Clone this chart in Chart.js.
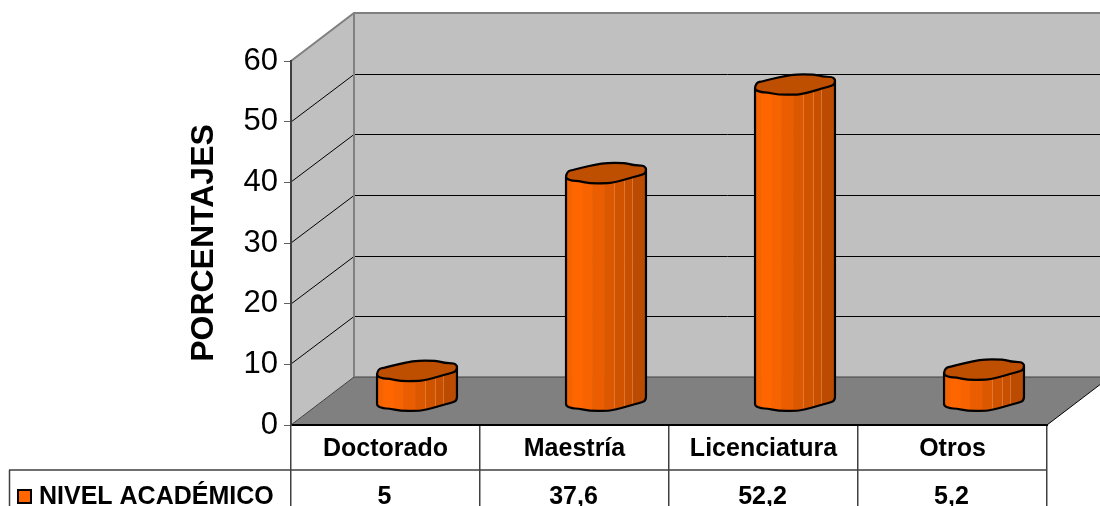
<!DOCTYPE html>
<html>
<head>
<meta charset="utf-8">
<style>html,body{margin:0;padding:0;background:#fff}canvas{display:block}</style>
<script src="https://cdn.jsdelivr.net/npm/chart.js@4"></script>
</head>
<body>
<canvas id="c" width="1100" height="506"></canvas>
<script>
const categories = ['Doctorado', 'Maestría', 'Licenciatura', 'Otros'];
const seriesName = 'NIVEL ACADÉMICO';
const values = [5, 37.6, 52.2, 5.2];
const valueLabels = ['5', '37,6', '52,2', '5,2'];
const yTicks = [0, 10, 20, 30, 40, 50, 60];
const yTitle = 'PORCENTAJES';

const FONT = '"Liberation Sans", Arial, sans-serif';
const DEPTH = { x: 63, y: -48 };
const ORANGE = '#ff6600';
// cap outline, in fractions of the bar half width, around the cap centre
const capTop = [[-1,.09],[-.98,-.04],[-.8,-.08],[-.1,-.25],[.5,-.25],[.68,-.19],[.93,-.19],[1,-.12],[1,-.1]];
const capBottom = [[1,-.1],[1,.0],[.88,.05],[.2,.24],[.0,.26],[-.42,.26],[-.7,.2],[-.84,.2],[-1,.14],[-1,.09]];
// vertical shading bands of the cylinder: [end fraction of width, colour]
const bands = [[.08,'#f56200'],[.21,'#ff6600'],[.33,'#f76300'],[.48,'#ea5d00'],[.60,'#dc5800'],[.73,'#d05300'],[.83,'#c84f00'],[1,'#bb4b00']];
const seams = [.60,.73,.83];

function poly(ctx, pts, start) {
  pts.forEach((p, i) => (i === 0 && start) ? ctx.moveTo(p[0], p[1]) : ctx.lineTo(p[0], p[1]));
}
function smooth(ctx, pts, start) {
  if (start) ctx.moveTo(pts[0][0], pts[0][1]); else ctx.lineTo(pts[0][0], pts[0][1]);
  for (let i = 1; i < pts.length - 1; i++) {
    const n = pts[i + 1], p = pts[i];
    const last = i === pts.length - 2;
    ctx.quadraticCurveTo(p[0], p[1], last ? n[0] : (p[0] + n[0]) / 2, last ? n[1] : (p[1] + n[1]) / 2);
  }
}

const scene = {
  id: 'scene',
  beforeDraw(chart) {
    const { ctx, scales: { x, y } } = chart;
    const L = x.left, R = x.right, B = y.getPixelForValue(0), T = y.getPixelForValue(60);
    const dx = DEPTH.x, dy = DEPTH.y;
    ctx.save();
    // back wall
    ctx.fillStyle = '#c0c0c0';
    ctx.fillRect(L + dx, T + dy, R - L, B - T);
    // side wall
    ctx.beginPath();
    poly(ctx, [[L,B],[L,T],[L+dx,T+dy],[L+dx,B+dy]], true);
    ctx.closePath(); ctx.fill();
    // floor
    ctx.fillStyle = '#808080';
    ctx.beginPath();
    poly(ctx, [[L,B],[R,B],[R+dx,B+dy],[L+dx,B+dy]], true);
    ctx.closePath(); ctx.fill();
    // grid lines
    ctx.strokeStyle = '#000'; ctx.lineWidth = 1;
    yTicks.forEach(v => {
      if (v === 0 || v === 60) return;
      const py = Math.round(y.getPixelForValue(v));
      ctx.beginPath();
      ctx.moveTo(L, py); ctx.lineTo(L + dx, py + dy + .5);
      ctx.lineTo(R + dx, py + dy + .5);
      ctx.stroke();
    });
    // wall borders
    ctx.strokeStyle = '#808080'; ctx.lineWidth = 2;
    ctx.beginPath();
    ctx.moveTo(L, T); ctx.lineTo(L + dx, T + dy); ctx.lineTo(R + dx, T + dy);
    ctx.moveTo(L + dx, T + dy); ctx.lineTo(L + dx, B + dy); ctx.lineTo(R + dx, B + dy);
    ctx.stroke();
    ctx.strokeStyle = '#606060'; ctx.lineWidth = 1;
    ctx.beginPath(); ctx.moveTo(L + dx, B + dy + .5); ctx.lineTo(R + dx, B + dy + .5); ctx.stroke();
    ctx.strokeStyle = '#000'; ctx.lineWidth = 1;
    ctx.beginPath(); ctx.moveTo(R, B); ctx.lineTo(R + dx, B + dy); ctx.stroke();
    ctx.strokeStyle = '#404040'; ctx.lineWidth = 1;
    ctx.beginPath(); ctx.moveTo(L, B); ctx.lineTo(L + dx, B + dy); ctx.stroke();

    // data table
    const row1 = B + 45, cw = (R - L) / categories.length;
    ctx.strokeStyle = '#404040'; ctx.lineWidth = 1.5;
    ctx.beginPath();
    ctx.moveTo(9, row1); ctx.lineTo(R + .5, row1);
    ctx.moveTo(9.5, row1); ctx.lineTo(9.5, 506);
    for (let i = 0; i <= categories.length; i++) {
      const vx = Math.floor(L + i * cw) - .25;
      ctx.moveTo(vx, B); ctx.lineTo(vx, 506);
    }
    ctx.stroke();
    // table: values row and series key
    ctx.fillStyle = '#000';
    ctx.font = 'bold 25px ' + FONT;
    ctx.textAlign = 'center'; ctx.textBaseline = 'alphabetic';
    valueLabels.forEach((t, i) => ctx.fillText(t, L + (i + .5) * cw - 1, 504));
    ctx.textAlign = 'left';
    ctx.fillText(seriesName, 39, 504);
    ctx.fillStyle = ORANGE; ctx.strokeStyle = '#000'; ctx.lineWidth = 2;
    ctx.fillRect(18, 490, 13, 13); ctx.strokeRect(18, 490, 13, 13);
    ctx.restore();
  },
  beforeDatasetDraw(chart, args) {
    const { ctx } = chart;
    const meta = chart.getDatasetMeta(args.index);
    meta.data.forEach(bar => {
      const hw = bar.width / 2;
      const cx = bar.x + DEPTH.x / 2;
      const topY = bar.y + DEPTH.y / 2, baseY = bar.base + DEPTH.y / 2;
      const at = (p, yc) => [cx + p[0] * hw, yc + p[1] * hw];
      const body = () => {
        ctx.beginPath();
        const a = at(capTop[0], topY), b = at(capBottom[0], topY);
        ctx.moveTo(a[0], a[1]); ctx.lineTo(b[0], b[1]);
        smooth(ctx, capBottom.map(p => at(p, baseY)), false);
        ctx.closePath();
      };
      ctx.save();
      ctx.lineJoin = 'round';
      // body with shading
      ctx.save();
      body(); ctx.clip();
      let sx = cx - hw;
      bands.forEach(b => {
        const ex = cx - hw + b[0] * 2 * hw;
        ctx.fillStyle = b[1];
        ctx.fillRect(sx, topY - hw, ex - sx + .5, baseY - topY + 2 * hw);
        sx = ex;
      });
      ctx.strokeStyle = 'rgba(255,190,140,.35)'; ctx.lineWidth = 1;
      seams.forEach(f => {
        const ex = Math.round(cx - hw + f * 2 * hw) + .5;
        ctx.beginPath(); ctx.moveTo(ex, topY - hw); ctx.lineTo(ex, baseY + hw); ctx.stroke();
      });
      ctx.restore();
      ctx.strokeStyle = '#000'; ctx.lineWidth = 2.2;
      body(); ctx.stroke();
      // cap
      ctx.beginPath();
      smooth(ctx, capTop.map(p => at(p, topY)), true);
      smooth(ctx, capBottom.map(p => at(p, topY)), false);
      ctx.closePath();
      ctx.fillStyle = '#bf4f00';
      ctx.fill(); ctx.stroke();
      ctx.restore();
    });
    return false;
  }
};

new Chart(document.getElementById('c'), {
  type: 'bar',
  data: {
    labels: categories,
    datasets: [{ label: seriesName, data: values, backgroundColor: ORANGE, borderColor: '#000', barPercentage: 0.423, categoryPercentage: 1 }]
  },
  plugins: [scene],
  options: {
    responsive: false,
    animation: false,
    layout: { padding: { top: 61, right: 53, left: 0, bottom: 0 } },
    plugins: { legend: { display: false }, title: { display: false }, tooltip: { enabled: false } },
    scales: {
      x: {
        afterFit: s => { s.height = 81; },
        grid: { display: false },
        border: { display: true, color: '#000', width: 2 },
        ticks: { color: '#000', font: { family: FONT, size: 25, weight: 'bold' }, padding: 1, maxRotation: 0, autoSkip: false }
      },
      y: {
        min: 0, max: 60,
        afterBuildTicks: s => { s.ticks = yTicks.map(v => ({ value: v })); },
        afterFit: s => { s.width = 291; },
        grid: { drawOnChartArea: false, drawTicks: true, tickLength: 7, color: '#606060' },
        border: { display: true, color: '#404040', width: 2 },
        ticks: { color: '#000', font: { family: FONT, size: 31 }, padding: 6 },
        title: { display: true, text: yTitle, color: '#000', font: { family: FONT, size: 32, weight: 'bold' }, padding: { top: 185, bottom: 0 } }
      }
    }
  }
});
</script>
</body>
</html>
